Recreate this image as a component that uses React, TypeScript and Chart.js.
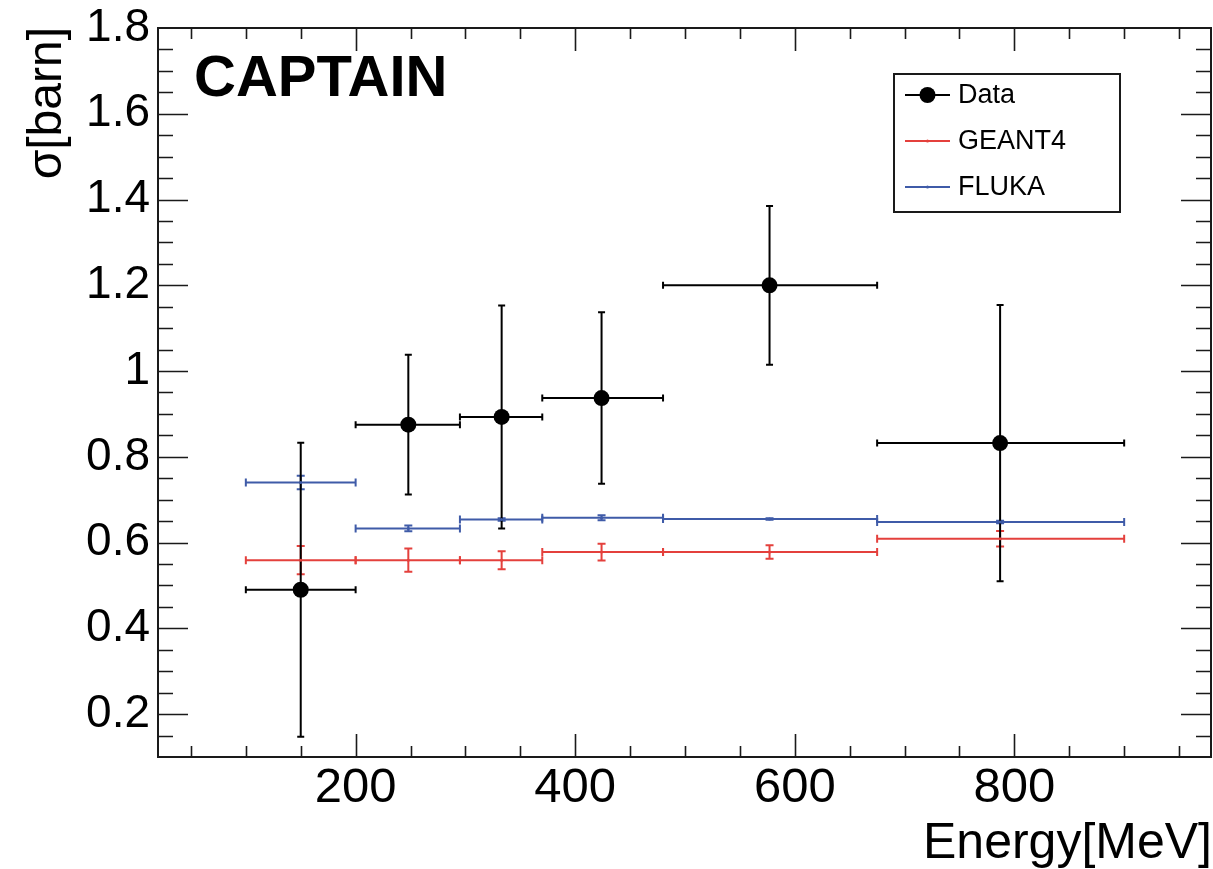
import React, { useEffect, useRef } from "react";
import { Chart, registerables } from "chart.js";

Chart.register(...registerables);

// Energy bins [MeV]
const binLow = [100, 200, 295, 370, 480, 675];
const binHigh = [200, 295, 370, 480, 675, 900];
const binCenter = [150, 248, 333, 424, 577, 787];

// Measured cross section [barn]
const dataSigma = [0.49, 0.875, 0.893, 0.937, 1.2, 0.832];
const dataErr = [0.343, 0.163, 0.26, 0.2, 0.185, 0.322];

// Simulation predictions [barn]
const geant4Sigma = [0.559, 0.559, 0.559, 0.578, 0.578, 0.609];
const geant4Err = [0.033, 0.027, 0.021, 0.0195, 0.0156, 0.018];
const flukaSigma = [0.74, 0.633, 0.654, 0.658, 0.655, 0.648];
const flukaErr = [0.0156, 0.0066, 0.003, 0.006, 0.002, 0.003];

// Axis ranges and labelled ticks
const xRange = [20, 980];
const yRange = [0.1, 1.8];
const xTickValues = [200, 400, 600, 800];
const yTickValues = [0.2, 0.4, 0.6, 0.8, 1.0, 1.2, 1.4, 1.6, 1.8];
const xMinorStep = 50;
const yMinorStep = 0.05;

const FONT = "'Liberation Sans', Arial, Helvetica, sans-serif";
const RED = "#e4403c";
const BLUE = "#3f5ba8";

const points = (ys: number[]) => binCenter.map((x, i) => ({ x, y: ys[i] }));

// Draws horizontal bin-width bars and vertical error bars, ROOT style
const errorBarPlugin = {
  id: "errorBars",
  beforeDatasetsDraw(chart: any) {
    const { ctx, chartArea, scales } = chart;
    const x = scales.x;
    const y = scales.y;
    ctx.save();
    ctx.beginPath();
    ctx.rect(chartArea.left, chartArea.top, chartArea.width, chartArea.height);
    ctx.clip();
    // draw the models first, the measurement on top
    const order = [...chart.data.datasets].reverse();
    order.forEach((ds: any) => {
      const eb = ds.errorBars;
      if (!eb) return;
      ctx.strokeStyle = ds.borderColor;
      ctx.lineWidth = eb.width;
      ds.data.forEach((pt: any, i: number) => {
        const px = x.getPixelForValue(pt.x);
        const py = y.getPixelForValue(pt.y);
        const xl = x.getPixelForValue(eb.lo[i]);
        const xh = x.getPixelForValue(eb.hi[i]);
        const yt = y.getPixelForValue(pt.y + eb.err[i]);
        const yb = y.getPixelForValue(pt.y - eb.err[i]);
        ctx.beginPath();
        ctx.moveTo(xl, py);
        ctx.lineTo(xh, py);
        ctx.moveTo(xl, py - eb.cap);
        ctx.lineTo(xl, py + eb.cap);
        ctx.moveTo(xh, py - eb.cap);
        ctx.lineTo(xh, py + eb.cap);
        ctx.moveTo(px, yt);
        ctx.lineTo(px, yb);
        ctx.moveTo(px - eb.cap, yt);
        ctx.lineTo(px + eb.cap, yt);
        ctx.moveTo(px - eb.cap, yb);
        ctx.lineTo(px + eb.cap, yb);
        ctx.stroke();
      });
    });
    ctx.restore();
  },
};

// Frame with inward ticks, titles, label and legend box
const framePlugin = {
  id: "frame",
  afterDraw(chart: any) {
    const { ctx, chartArea, scales } = chart;
    const x = scales.x;
    const y = scales.y;
    const { left, right, top, bottom } = chartArea;
    ctx.save();
    ctx.strokeStyle = "#1a1a1a";
    ctx.lineWidth = 2;
    ctx.strokeRect(left, top, right - left - 1, bottom - top);

    ctx.lineWidth = 1.6;
    ctx.beginPath();
    // x ticks (bottom and top)
    for (let v = Math.ceil(xRange[0] / xMinorStep) * xMinorStep; v <= xRange[1]; v += xMinorStep) {
      if (v <= xRange[0] || v >= xRange[1]) continue;
      const major = xTickValues.includes(v);
      const px = Math.round(x.getPixelForValue(v)) + 0.5;
      const len = major ? 23 : 11;
      ctx.moveTo(px, bottom);
      ctx.lineTo(px, bottom - len);
      ctx.moveTo(px, top);
      ctx.lineTo(px, top + len);
    }
    // y ticks (left and right)
    const nY = Math.round((yRange[1] - yRange[0]) / yMinorStep);
    for (let k = 1; k < nY; k++) {
      const v = yRange[0] + k * yMinorStep;
      const major = yTickValues.some((t) => Math.abs(t - v) < 1e-6);
      const py = Math.round(y.getPixelForValue(v)) + 0.5;
      const len = major ? 30 : 15;
      ctx.moveTo(left, py);
      ctx.lineTo(left + len, py);
      ctx.moveTo(right - 1, py);
      ctx.lineTo(right - 1 - len, py);
    }
    ctx.stroke();

    // axis titles
    ctx.fillStyle = "#000";
    ctx.font = `50px ${FONT}`;
    ctx.textAlign = "right";
    ctx.textBaseline = "alphabetic";
    ctx.fillText("Energy[MeV]", right, 858);

    ctx.save();
    ctx.font = `48px ${FONT}`;
    ctx.translate(61, top - 1);
    ctx.rotate(-Math.PI / 2);
    ctx.textAlign = "right";
    ctx.fillText("σ[barn]", 0, 0);
    ctx.restore();

    // experiment label
    ctx.font = `bold 58px ${FONT}`;
    ctx.textAlign = "left";
    ctx.fillText("CAPTAIN", 194, 96);

    // legend
    const lx = 894;
    const ly = 74;
    const lw = 226;
    const lh = 138;
    ctx.fillStyle = "#fff";
    ctx.fillRect(lx, ly, lw, lh);
    ctx.strokeStyle = "#1a1a1a";
    ctx.lineWidth = 2;
    ctx.strokeRect(lx, ly, lw, lh);
    const rows = [95, 141, 187];
    chart.data.datasets.forEach((ds: any, i: number) => {
      const ry = rows[i];
      ctx.strokeStyle = ds.borderColor;
      ctx.lineWidth = 2;
      ctx.beginPath();
      ctx.moveTo(905, ry);
      ctx.lineTo(950, ry);
      ctx.stroke();
      ctx.fillStyle = ds.backgroundColor;
      ctx.beginPath();
      ctx.arc(927.5, ry, ds.pointRadius, 0, Math.PI * 2);
      ctx.fill();
      ctx.fillStyle = "#000";
      ctx.font = `27px ${FONT}`;
      ctx.textAlign = "left";
      ctx.textBaseline = "middle";
      ctx.fillText(ds.label, 958, ry + 1);
    });
    ctx.restore();
  },
};

// Keep the plot frame exactly where the layout padding puts it
const noLabelPadding = (s: any) => {
  s.paddingTop = 0;
  s.paddingBottom = 0;
  s.paddingLeft = 0;
  s.paddingRight = 0;
};

export default function App() {
  const canvasRef = useRef<HTMLCanvasElement | null>(null);

  useEffect(() => {
    const canvas = canvasRef.current;
    if (!canvas) return;
    const chart = new Chart(canvas, {
      type: "scatter",
      data: {
        datasets: [
          {
            label: "Data",
            data: points(dataSigma),
            borderColor: "#000",
            backgroundColor: "#000",
            pointRadius: 8,
            pointBorderWidth: 0,
            errorBars: { lo: binLow, hi: binHigh, err: dataErr, cap: 3.5, width: 2 },
          } as any,
          {
            label: "GEANT4",
            data: points(geant4Sigma),
            borderColor: RED,
            backgroundColor: RED,
            pointRadius: 1.5,
            pointBorderWidth: 0,
            errorBars: { lo: binLow, hi: binHigh, err: geant4Err, cap: 4, width: 2 },
          } as any,
          {
            label: "FLUKA",
            data: points(flukaSigma),
            borderColor: BLUE,
            backgroundColor: BLUE,
            pointRadius: 1.5,
            pointBorderWidth: 0,
            errorBars: { lo: binLow, hi: binHigh, err: flukaErr, cap: 4, width: 2 },
          } as any,
        ],
      },
      options: {
        responsive: false,
        animation: false,
        devicePixelRatio: 1,
        layout: { autoPadding: false, padding: { left: 0, right: 1, top: 28, bottom: 0 } },
        plugins: {
          legend: { display: false },
          tooltip: { enabled: false },
        },
        scales: {
          x: {
            type: "linear",
            min: xRange[0],
            max: xRange[1],
            grid: { display: false, drawTicks: false },
            border: { display: false },
            afterBuildTicks: (s: any) => {
              s.ticks = xTickValues.map((value) => ({ value }));
            },
            afterFit: (s: any) => {
              s.height = 112;
              noLabelPadding(s);
            },
            ticks: {
              color: "#000",
              padding: 2,
              maxRotation: 0,
              font: { family: FONT, size: 49 },
              callback: (v: any) => String(v),
            },
          },
          y: {
            type: "linear",
            min: yRange[0],
            max: yRange[1],
            grid: { display: false, drawTicks: false },
            border: { display: false },
            afterBuildTicks: (s: any) => {
              s.ticks = yTickValues.map((value) => ({ value }));
            },
            afterFit: (s: any) => {
              s.width = 158;
              noLabelPadding(s);
            },
            ticks: {
              color: "#000",
              padding: 8,
              font: { family: FONT, size: 46 },
              callback: (v: any) => String(Number(Number(v).toFixed(2))),
            },
          },
        },
      },
      plugins: [errorBarPlugin, framePlugin],
    });
    return () => chart.destroy();
  }, []);

  return (
    <div style={{ position: "absolute", left: 0, top: 0, width: 1213, height: 869, background: "#fff" }}>
      <canvas ref={canvasRef} width={1213} height={869} style={{ display: "block" }} />
    </div>
  );
}
